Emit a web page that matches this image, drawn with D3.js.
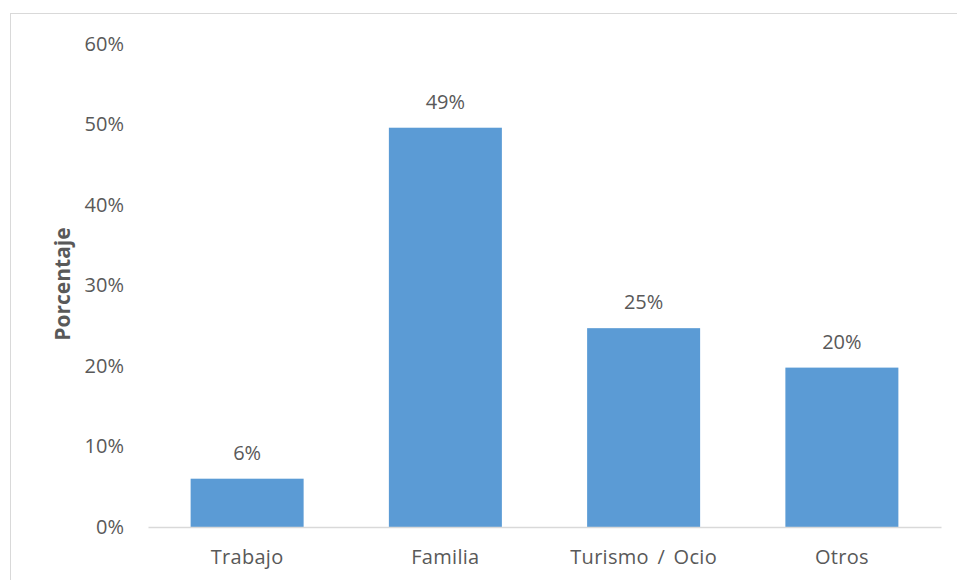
<!DOCTYPE html>
<html>
<head>
<meta charset="utf-8">
<script src="https://cdn.jsdelivr.net/npm/d3@7"></script>
<style>
  html, body { margin: 0; padding: 0; background: #fff; }
  svg { display: block; }
  text { font-family: "Open Sans", sans-serif; fill: #595959; }
</style>
</head>
<body>
<svg id="chart" width="957" height="580"></svg>
<script>
const categories = ["Trabajo", "Familia", "Turismo / Ocio", "Otros"];
const values = [0.060, 0.496, 0.247, 0.198];
const valueLabels = ["6%", "49%", "25%", "20%"];
const yTicks = [0, 0.1, 0.2, 0.3, 0.4, 0.5, 0.6];
const yTitle = "Porcentaje";

const svg = d3.select("#chart");

// outer chart border
svg.append("rect")
  .attr("x", 10.5).attr("y", 13.5)
  .attr("width", 960).attr("height", 600)
  .attr("fill", "none").attr("stroke", "#d9d9d9").attr("stroke-width", 1);

const x = d3.scaleBand().domain(categories).range([148, 941])
  .paddingInner(0.43).paddingOuter(0.215);
const y = d3.scaleLinear().domain([0, 0.6]).range([527, 44]);

// y axis (labels only)
const yAxis = d3.axisLeft(y).tickValues(yTicks).tickFormat(d3.format(".0%")).tickSize(0).tickPadding(0);
const gy = svg.append("g").attr("transform", "translate(124,0)").call(yAxis);
gy.select(".domain").remove();
gy.selectAll("text").style("font-size", "20px").attr("fill", "#595959").attr("font-family", "Open Sans");

// bars
svg.append("g").selectAll("rect").data(values).join("rect")
  .attr("x", (d, i) => x(categories[i]))
  .attr("y", d => y(d))
  .attr("width", x.bandwidth())
  .attr("height", d => y(0) - y(d))
  .attr("fill", "#5b9bd5");

// x axis
const xAxis = d3.axisBottom(x).tickSize(0).tickPadding(0);
const gx = svg.append("g").attr("transform", "translate(0," + y(0) + ")").call(xAxis);
gx.select(".domain").attr("stroke", "#d9d9d9").attr("stroke-width", 1.5);
gx.selectAll("text").style("font-size", "20px").attr("fill", "#595959")
  .attr("font-family", "Open Sans").attr("dy", "37px")
  .style("letter-spacing", "0.3px").style("word-spacing", "3px");

// data labels
svg.append("g").selectAll("text").data(values).join("text")
  .attr("x", (d, i) => x(categories[i]) + x.bandwidth() / 2)
  .attr("y", d => y(d) - 19)
  .attr("text-anchor", "middle")
  .style("font-size", "20px")
  .text((d, i) => valueLabels[i]);

// y title
svg.append("text")
  .attr("transform", "translate(70,284) rotate(-90)")
  .attr("text-anchor", "middle")
  .style("font-size", "21px").style("font-weight", "bold")
  .text(yTitle);
</script>
</body>
</html>
